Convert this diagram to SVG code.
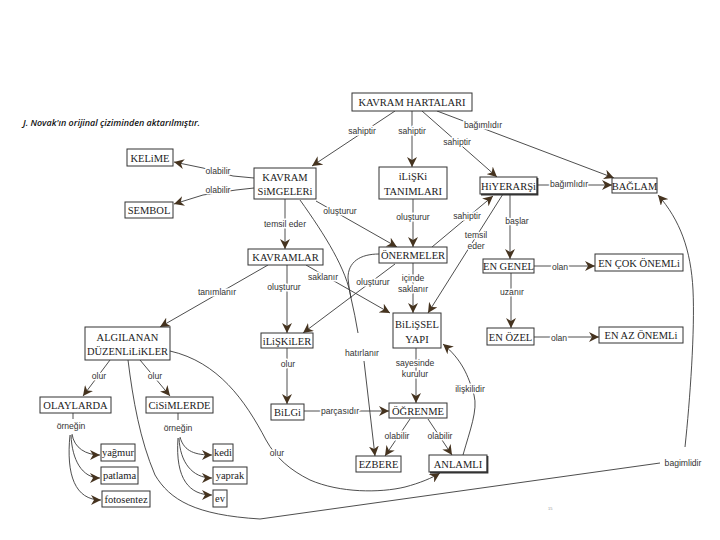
<svg xmlns="http://www.w3.org/2000/svg" width="720" height="540" viewBox="0 0 720 540">
<defs>
<marker id="ah" viewBox="0 0 10 10" refX="10" refY="5" markerWidth="10" markerHeight="10" markerUnits="userSpaceOnUse" orient="auto">
<path d="M0,0 L10,5 L0,10 L3,5 z" fill="#45331f"/>
</marker>
<style>
.box{fill:#fff;stroke:#333;stroke-width:1}
.shd{fill:none;stroke:#333;stroke-width:1.8}
.nt{font-family:"Liberation Serif","DejaVu Serif","Times New Roman",serif;font-size:10.5px;fill:#1a1a1a;text-anchor:middle}
.ns{font-family:"Liberation Serif","DejaVu Serif","Times New Roman",serif;font-size:10.5px;fill:#1a1a1a;text-anchor:middle}
.c{fill:none;stroke:#3a3a3a;stroke-width:0.9}
.a{marker-end:url(#ah)}
.lb{font-family:"Liberation Sans",Arial,sans-serif;font-size:8.6px;fill:#333;text-anchor:middle;stroke:#fff;stroke-width:3px;stroke-linejoin:round;paint-order:stroke}
.ttl{font-family:"Open Sans","Noto Sans",sans-serif;font-style:italic;font-weight:600;font-size:8.5px;fill:#111}
</style>
</defs>
<rect width="720" height="540" fill="#fff"/>
<text class="ttl" x="23" y="126" textLength="177" lengthAdjust="spacingAndGlyphs">J. Novak'ın orijinal çiziminden aktarılmıştır.</text>
<text x="548" y="510" font-family="Liberation Sans,sans-serif" font-size="4" fill="#999">15</text>

<g id="connectors">
<path class="c a" d="M395,111 L312,166"/>
<path class="c a" d="M412,111 L412,167"/>
<path class="c a" d="M422,111 L497,177"/>
<path class="c a" d="M437,111 L614,178"/>
<path class="c a" d="M537,185 L612,185"/>
<path class="c a" d="M254,178 L233,176 L203,168 L174,162"/>
<path class="c a" d="M254,188 L236,190 L203,195 L174,204"/>
<path class="c a" d="M285,199 L285,249"/>
<path class="c a" d="M316,201 L397,247"/>
<path class="c" d="M300,200 C325,235 347,270 351,298 Q355,315 358,333"/>
<path class="c" d="M379,254 C360,254 348,262 348,278 Q349,290 351,298"/>
<path class="c a" d="M364,361 L375,456"/>
<path class="c a" d="M413,199 L413,247"/>
<path class="c a" d="M432,247 L493,196"/>
<path class="c a" d="M503,194 L428,313"/>
<path class="c a" d="M510,194 L510,259"/>
<path class="c a" d="M534,266 L595,266"/>
<path class="c a" d="M511,273 L511,328"/>
<path class="c a" d="M534,337 L599,337"/>
<path class="c a" d="M268,265 L160,327"/>
<path class="c a" d="M287,265 L287,333"/>
<path class="c a" d="M306,265 L390,313"/>
<path class="c a" d="M395,264 L303,333"/>
<path class="c a" d="M413,263 L413,313"/>
<path class="c a" d="M110,360 L83,396"/>
<path class="c a" d="M140,360 L170,396"/>
<path class="c a" d="M170,351 C218,362 245,400 266,440 C276,458 290,470 310,480 C340,493 380,493 405,487 C420,483 432,478 440,473"/>
<path class="c" d="M128,360 C133,400 140,440 155,475 C170,500 195,515 260,519 L660,463"/>
<path class="c a" d="M685,447 C690,400 695,330 693,290 C691,250 680,220 658,195"/>
<path class="c a" d="M287,348 L287,404"/>
<path class="c" d="M304,411 L318,411" stroke-width="2.2"/>
<path class="c a" d="M318,411 L389,411"/>
<path class="c a" d="M416,348 L416,403"/>
<path class="c a" d="M410,419 L385,456"/>
<path class="c a" d="M428,419 L452,455"/>
<path class="c a" d="M463,455 C470,430 478,410 474,395 C468,375 462,360 443,344"/>
<path class="c" d="M73,413 L73,419" stroke-width="1.6"/>
<path class="c a" d="M72,434 C74,448 86,455 100,455"/>
<path class="c a" d="M71,435 C72,460 82,478 100,478"/>
<path class="c a" d="M70,435 C66,475 75,500 101,500"/>
<path class="c" d="M178,413 L178,420" stroke-width="1.6"/>
<path class="c a" d="M180,437 C184,452 196,455 212,455"/>
<path class="c a" d="M179,438 C180,462 192,478 212,478"/>
<path class="c a" d="M178,438 C175,480 190,495 212,495"/>

<text class="lb" x="362" y="134">sahiptir</text>
<text class="lb" x="412" y="134">sahiptir</text>
<text class="lb" x="457" y="145">sahiptir</text>
<text class="lb" x="483" y="128">bağımlıdır</text>
<text class="lb" x="569" y="187">bağımlıdır</text>
<text class="lb" x="218" y="174">olabilir</text>
<text class="lb" x="218" y="193">olabilir</text>
<text class="lb" x="340" y="214">oluşturur</text>
<text class="lb" x="285" y="227">temsil eder</text>
<text class="lb" x="413" y="220">oluşturur</text>
<text class="lb" x="467" y="219">sahiptir</text>
<text class="lb" x="476" y="238">temsil</text>
<text class="lb" x="476" y="249">eder</text>
<text class="lb" x="517" y="224">başlar</text>
<text class="lb" x="323" y="280">saklanır</text>
<text class="lb" x="284" y="290">oluşturur</text>
<text class="lb" x="217" y="295">tanımlanır</text>
<text class="lb" x="373" y="285">oluşturur</text>
<text class="lb" x="413" y="281">içinde</text>
<text class="lb" x="413" y="292">saklanır</text>
<text class="lb" x="512" y="295">uzanır</text>
<text class="lb" x="560" y="270">olan</text>
<text class="lb" x="559" y="341">olan</text>
<text class="lb" x="362" y="356">hatırlanır</text>
<text class="lb" x="415" y="366">sayesinde</text>
<text class="lb" x="415" y="377">kurulur</text>
<text class="lb" x="470" y="392">ilişkilidir</text>
<text class="lb" x="288" y="367">olur</text>
<text class="lb" x="340" y="414">parçasıdır</text>
<text class="lb" x="397" y="439">olabilir</text>
<text class="lb" x="440" y="439">olabilir</text>
<text class="lb" x="277" y="456">olur</text>
<text class="lb" x="99" y="379">olur</text>
<text class="lb" x="155" y="379">olur</text>
<text class="lb" x="71" y="429">örneğin</text>
<text class="lb" x="178" y="431">örneğin</text>
<text class="lb" x="683" y="466">bagimlidir</text>
</g>

<g id="n-kavram-haritalari"><rect class="box" x="352" y="93" width="120" height="18"/><text class="nt" x="412" y="106">KAVRAM HARTALARI</text></g>
<g id="n-kelime"><rect class="box" x="127" y="149" width="46" height="17"/><text class="nt" x="150" y="161.5">KELiME</text></g>
<g id="n-sembol"><rect class="box" x="125" y="202" width="48" height="16"/><text class="nt" x="149" y="214">SEMBOL</text></g>
<g id="n-kavram-simgeleri"><rect class="box" x="254" y="168" width="62" height="31"/><text class="nt" x="285" y="181">KAVRAM</text><text class="nt" x="285" y="195">SiMGELERi</text></g>
<g id="n-iliski-tanimlari"><rect class="box" x="379" y="167" width="68" height="32"/><text class="nt" x="413" y="180">iLiŞKi</text><text class="nt" x="413" y="195">TANIMLARI</text></g>
<g id="n-hiyerarsi"><rect class="box" x="480" y="177" width="57" height="17"/><path class="shd" d="M481,194.5 L537.5,194.5 L537.5,178"/><text class="nt" x="508.5" y="189.5">HiYERARŞi</text></g>
<g id="n-baglam"><rect class="box" x="612" y="178" width="45" height="15"/><text class="nt" x="634.5" y="189.5">BAĞLAM</text></g>
<g id="n-kavramlar"><rect class="box" x="248" y="249" width="75" height="16"/><text class="nt" x="285.5" y="261">KAVRAMLAR</text></g>
<g id="n-onermeler"><rect class="box" x="379" y="247" width="68" height="16"/><text class="nt" x="413" y="259">ÖNERMELER</text></g>
<g id="n-en-genel"><rect class="box" x="483" y="259" width="51" height="14"/><text class="nt" x="508.5" y="270">EN GENEL</text></g>
<g id="n-en-cok-onemli"><rect class="box" x="595" y="254" width="88" height="17"/><text class="nt" x="639" y="266.5">EN ÇOK ÖNEMLi</text></g>
<g id="n-bilissel-yapi"><rect class="box" x="393" y="313" width="48" height="35"/><text class="nt" x="417" y="328">BiLiŞSEL</text><text class="nt" x="417" y="343">YAPI</text></g>
<g id="n-en-ozel"><rect class="box" x="487" y="328" width="47" height="17"/><text class="nt" x="510.5" y="340.5">EN ÖZEL</text></g>
<g id="n-en-az-onemli"><rect class="box" x="599" y="327" width="84" height="16"/><text class="nt" x="641" y="339">EN AZ ÖNEMLi</text></g>
<g id="n-algilanan"><rect class="box" x="85" y="327" width="85" height="33"/><text class="nt" x="127.5" y="341">ALGILANAN</text><text class="nt" x="127.5" y="355" textLength="81" lengthAdjust="spacingAndGlyphs">DÜZENLiLiKLER</text></g>
<g id="n-iliskiler"><rect class="box" x="261" y="333" width="52" height="15"/><text class="nt" x="287" y="344.5">iLiŞKiLER</text></g>
<g id="n-olaylarda"><rect class="box" x="40" y="397" width="71" height="16"/><text class="nt" x="75.5" y="409">OLAYLARDA</text></g>
<g id="n-cisimlerde"><rect class="box" x="146" y="397" width="67" height="16"/><text class="nt" x="179.5" y="409">CiSiMLERDE</text></g>
<g id="n-bilgi"><rect class="box" x="271" y="404" width="33" height="16"/><text class="nt" x="287.5" y="416">BiLGi</text></g>
<g id="n-ogrenme"><rect class="box" x="389" y="403" width="58" height="15"/><text class="nt" x="418" y="414.5">ÖĞRENME</text></g>
<g id="n-ezbere"><rect class="box" x="356" y="456" width="45" height="16"/><text class="nt" x="378.5" y="468">EZBERE</text></g>
<g id="n-anlamli"><rect class="box" x="429" y="455" width="58" height="17"/><path class="shd" d="M430,472.5 L487.5,472.5 L487.5,456"/><text class="nt" x="458" y="468">ANLAMLI</text></g>
<g id="n-yagmur"><rect class="box" x="101" y="444" width="34" height="17"/><text class="ns" x="118" y="456">yağmur</text></g>
<g id="n-patlama"><rect class="box" x="101" y="467" width="37" height="17"/><text class="ns" x="119.5" y="479">patlama</text></g>
<g id="n-fotosentez"><rect class="box" x="102" y="491" width="48" height="16"/><text class="ns" x="126" y="503">fotosentez</text></g>
<g id="n-kedi"><rect class="box" x="213" y="444" width="20" height="17"/><text class="ns" x="223" y="456">kedi</text></g>
<g id="n-yaprak"><rect class="box" x="213" y="467" width="34" height="17"/><text class="ns" x="230" y="479">yaprak</text></g>
<g id="n-ev"><rect class="box" x="213" y="490" width="14" height="17"/><text class="ns" x="220" y="502">ev</text></g>
</svg>
